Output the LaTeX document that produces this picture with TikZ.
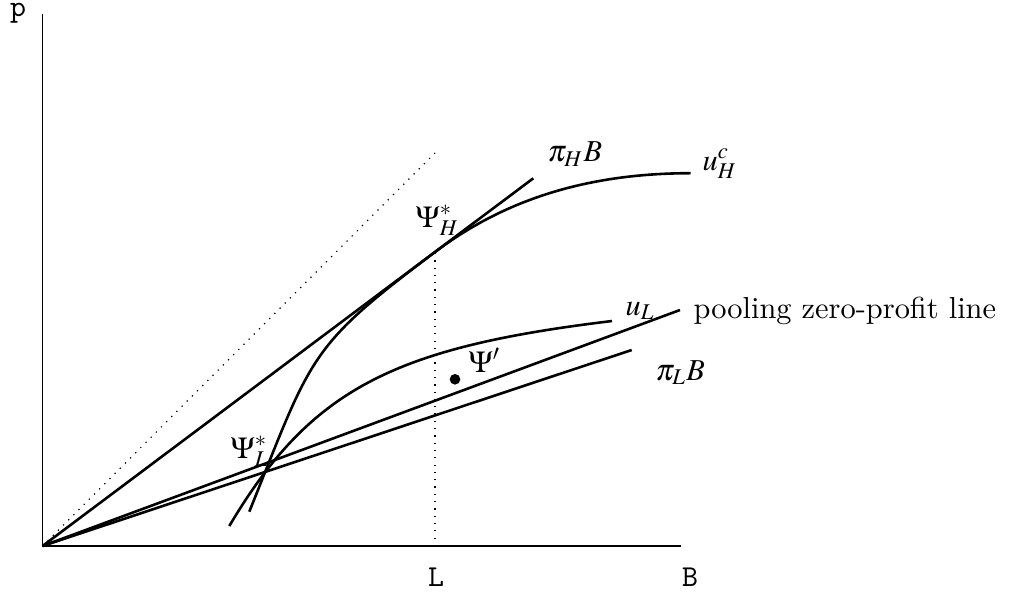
\documentclass[tikz,border=0pt]{standalone}
\usepackage{mathptmx}
\renewcommand{\rmdefault}{lmr}
\begin{document}
\begin{tikzpicture}[x=0.329pt,y=-0.329pt,
  curve/.style={line width=0.85pt},
  axisline/.style={line width=0.45pt},
  guide/.style={line width=0.4pt,dotted},
  lbl/.style={inner sep=0pt,anchor=base west},
  axlbl/.style={inner sep=0pt,font=\ttfamily}]
\useasboundingbox (0,0) rectangle (1014,595);
% key points
\coordinate (O) at (42.5,546);
\coordinate (ytop) at (42.5,14);
\coordinate (xend) at (681,546);
\coordinate (diagend) at (435,153);
\coordinate (Lfoot) at (435,546);
\coordinate (Ltop) at (435,253);
\coordinate (piHend) at (533.3,178.3);
\coordinate (poolend) at (680,310);
\coordinate (piLend) at (631.7,350);
\coordinate (uHlow) at (249.3,511.7);
\coordinate (uHtan) at (436,251.3);
\coordinate (uHend) at (690.7,173.2);
\coordinate (uLlow) at (229.3,526);
\coordinate (uLend) at (612,321);
% axes
\draw[axisline] (ytop) -- (O) -- (xend);
\node[axlbl] (plab) at (18,13.5) {p};
\node[axlbl] (Llab) at (436,577.5) {L};
\node[axlbl] (Blab) at (690,577.5) {B};
% guides
\draw[guide] (O) -- (diagend);
\draw[guide] (Lfoot) -- (Ltop);
% lines
\draw[curve] (O) -- (piHend);
\draw[curve] (O) -- (poolend);
\draw[curve] (O) -- (piLend);
% indifference curves
\draw[curve] (uHlow) .. controls (312.5,353.9) and (308,347.3) .. (uHtan)
                     .. controls (500,203.3) and (580.7,173.2) .. (uHend);
\draw[curve] (uLlow) .. controls (310.9,388.4) and (394.2,347.4) .. (uLend);
% point
\node[circle,fill,inner sep=0pt,minimum size=3.5pt] (dot) at (455,379.3) {};
% labels
\node[lbl] (piHlab) at (547,161.5) {$\pi_H B$};
\node[lbl] (uHlab) at (702,170) {$u_H^c$};
\node[lbl] (PsiHlab) at (415,227) {$\Psi_H^*$};
\node[lbl] (PsiLlab) at (230,458) {$\Psi_L^*$};
\node[lbl] (Psiplab) at (468,372) {$\Psi'$};
\node[lbl] (uLlab) at (625,315) {$u_L$};
\node[lbl] (poollab) at (693,318) {pooling zero-profit line};
\node[lbl] (piLlab) at (655,380) {$\pi_L B$};
\end{tikzpicture}
\end{document}
